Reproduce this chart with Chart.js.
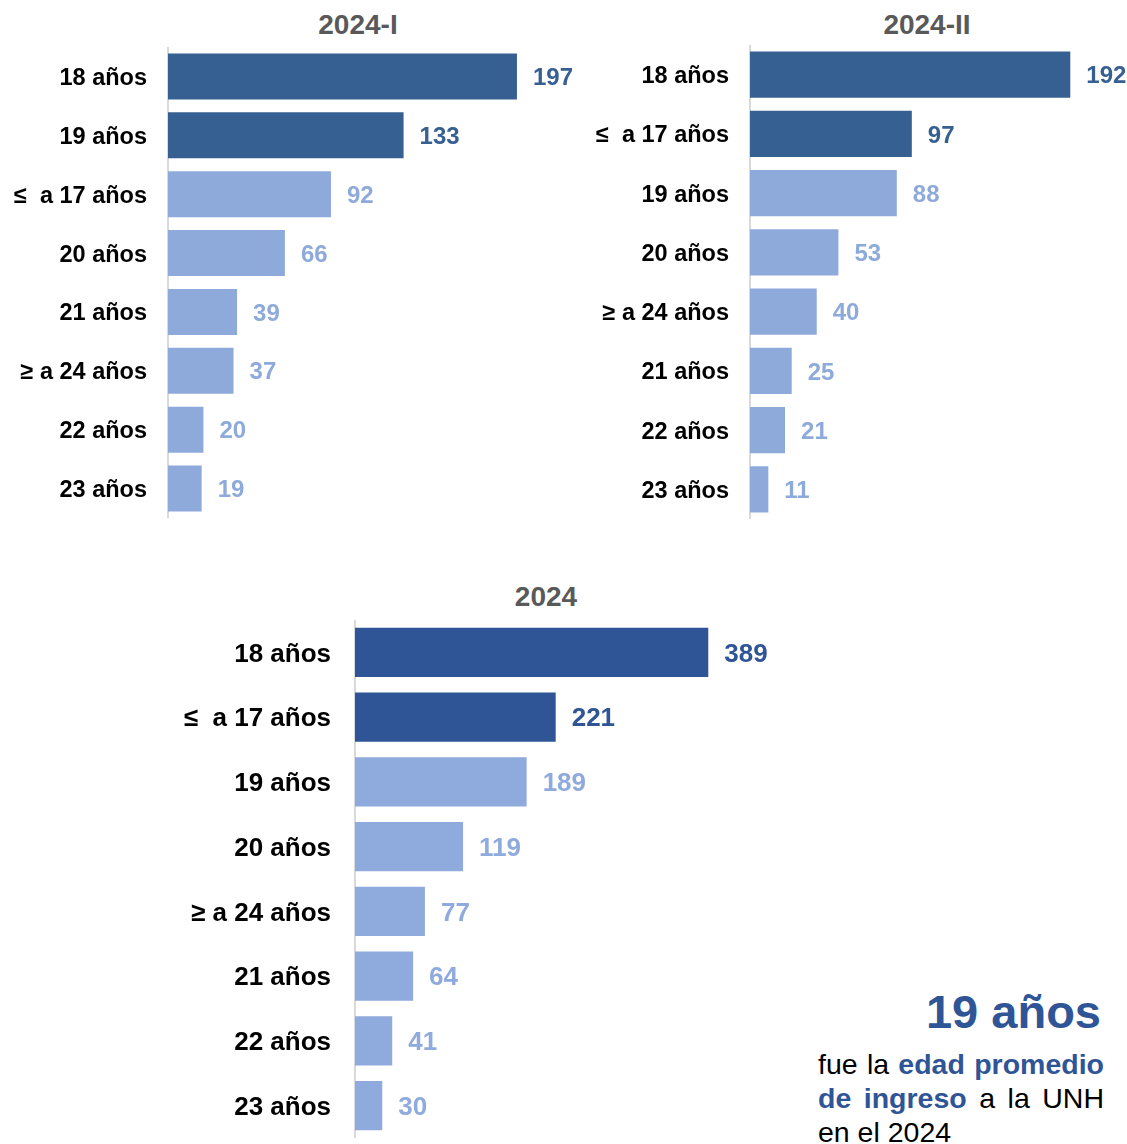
<!DOCTYPE html>
<html>
<head>
<meta charset="utf-8">
<title>Edad de ingreso 2024</title>
<script src="https://cdn.jsdelivr.net/npm/chart.js@4.4.1/dist/chart.umd.min.js"></script>
<style>
body{margin:0;background:#fff;font-family:"Liberation Sans",Arial,sans-serif;}
#page{position:relative;width:1127px;height:1144px;overflow:hidden;}
canvas{position:absolute;}
.title{position:absolute;font-weight:bold;color:#595959;font-size:28px;text-align:center;width:200px;line-height:30px;}
#big{position:absolute;right:26px;top:984px;font-weight:bold;font-size:47px;color:#2F5597;line-height:56px;}
#note{position:absolute;left:818px;top:1047px;width:286px;font-size:28.5px;line-height:34px;color:#000;}
#note div{text-align:justify;text-align-last:justify;white-space:nowrap;}
#note div.last{text-align-last:left;}
#note b{color:#2F5597;}
</style>
</head>
<body>
<div id="page">
	<div class="title" style="left:258px;top:10px;">2024-I</div>
	<div class="title" style="left:827px;top:10px;">2024-II</div>
	<div class="title" style="left:446px;top:582px;">2024</div>
	<canvas id="c1" width="580" height="471" style="left:0;top:47px;"></canvas>
	<canvas id="c2" width="547" height="474" style="left:580px;top:45px;"></canvas>
	<canvas id="c3" width="800" height="518" style="left:0;top:620px;"></canvas>
	<div id="big">19 años</div>
	<div id="note">
		<div>fue la <b>edad promedio</b></div>
		<div><b>de ingreso</b> a la UNH</div>
		<div class="last">en el 2024</div>
	</div>
</div>

<script type="text/javascript">
	// data
	var labels1 = ['18 años', '19 años', '≤  a 17 años', '20 años', '21 años', '≥ a 24 años', '22 años', '23 años'];
	var values1 = [197, 133, 92, 66, 39, 37, 20, 19];

	var labels2 = ['18 años', '≤  a 17 años', '19 años', '20 años', '≥ a 24 años', '21 años', '22 años', '23 años'];
	var values2 = [192, 97, 88, 53, 40, 25, 21, 11];

	var labels3 = ['18 años', '≤  a 17 años', '19 años', '20 años', '≥ a 24 años', '21 años', '22 años', '23 años'];
	var values3 = [389, 221, 189, 119, 77, 64, 41, 30];

	var FONT = '"Liberation Sans", Arial, sans-serif';

	// the two largest bars get the dark colour
	function barColors(n, dark, light){
		var c = [];
		for (var i = 0; i < n; i++) c.push(i < 2 ? dark : light);
		return c;
	}

	// writes the value right after each bar
	function valueLabels(size){
		return {
			id: 'valueLabels',
			afterDatasetsDraw: function(chart){
				var ctx = chart.ctx;
				var ds = chart.data.datasets[0];
				var meta = chart.getDatasetMeta(0);
				ctx.save();
				ctx.font = 'bold ' + size + 'px ' + FONT;
				ctx.textBaseline = 'middle';
				ctx.textAlign = 'left';
				meta.data.forEach(function(bar, i){
					ctx.fillStyle = ds.backgroundColor[i];
					ctx.fillText(ds.data[i], bar.x + 16, bar.y + 2);
				});
				ctx.restore();
			}
		};
	}

	function makeChart(id, labels, values, colors, xMax, axisWidth, thick, fontSize, valSize, pad){
		return new Chart(document.getElementById(id), {
			type: 'bar',
			data: {
				labels: labels,
				datasets: [{
					data: values,
					backgroundColor: colors,
					borderWidth: 0,
					barPercentage: thick,
					categoryPercentage: 1
				}]
			},
			options: {
				indexAxis: 'y',
				responsive: false,
				animation: false,
				layout: {padding: 0},
				plugins: {legend: {display: false}, tooltip: {enabled: false}},
				scales: {
					x: {display: false, min: 0, max: xMax},
					y: {
						grid: {display: false, drawTicks: false},
						border: {display: true, color: '#D9D9D9', width: 2},
						ticks: {color: '#000', padding: pad, labelOffset: 2, font: {family: FONT, size: fontSize, weight: 'bold'}},
						afterFit: function(scale){
							scale.width = axisWidth;
							// keep the bars filling the whole canvas height
							scale.paddingTop = 0;
							scale.paddingBottom = 0;
						}
					}
				}
			},
			plugins: [valueLabels(valSize)]
		});
	}

	makeChart('c1', labels1, values1, barColors(8, '#376092', '#8EAADB'), 232.6, 168, 0.78, 23.5, 24, 21);
	makeChart('c2', labels2, values2, barColors(8, '#376092', '#8EAADB'), 226, 170, 0.78, 23.5, 24, 21);
	makeChart('c3', labels3, values3, barColors(8, '#2F5597', '#8FAADC'), 490, 355, 0.76, 26, 26, 24);
</script>
</body>
</html>
